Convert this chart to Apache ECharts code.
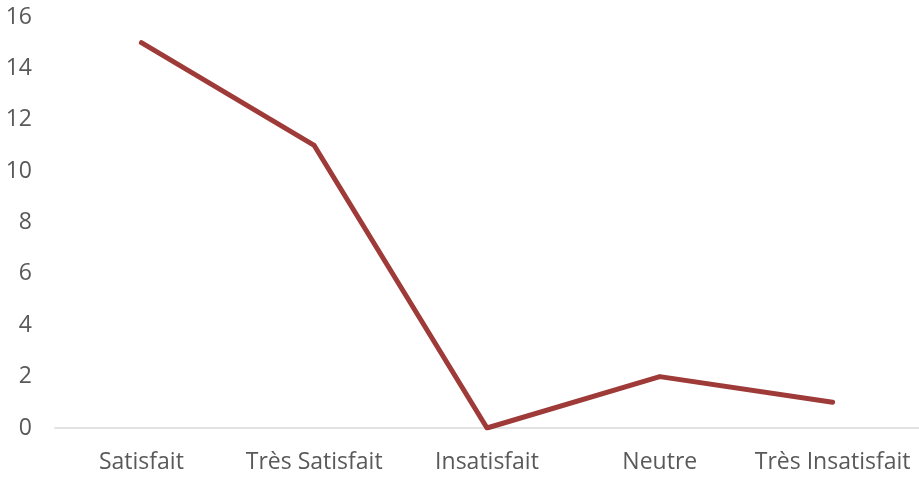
<!DOCTYPE html>
<html>
<head>
<meta charset="utf-8">
<script src="https://cdn.jsdelivr.net/npm/echarts@6/dist/echarts.min.js"></script>
<style>
html, body { margin: 0; padding: 0; background: #fff; }
#chart { width: 919px; height: 479px; }
</style>
</head>
<body>
<div id="chart"></div>
<script>
const categories = ['Satisfait', 'Très Satisfait', 'Insatisfait', 'Neutre', 'Très Insatisfait'];
const values = [15, 11, 0, 2, 1];
const yTicks = [0, 2, 4, 6, 8, 10, 12, 14, 16];

let chart = echarts.init(document.getElementById('chart'));
chart.setOption({
    backgroundColor: '#ffffff',
    animation: false,
    grid: {
        left: 55,
        right: -5,
        top: 17,
        bottom: 51
    },
    xAxis: {
        type: 'category',
        data: categories,
        boundaryGap: true,
        axisTick: { show: false },
        axisLine: { lineStyle: { color: '#d9d9d9', width: 1.5 } },
        axisLabel: {
            color: '#595959',
            fontFamily: 'Open Sans',
            fontSize: 23,
            margin: 23,
            interval: 0
        }
    },
    yAxis: {
        type: 'value',
        min: yTicks[0],
        max: yTicks[yTicks.length - 1],
        interval: 2,
        splitLine: { show: false },
        axisLine: { show: false },
        axisTick: { show: false },
        axisLabel: {
            color: '#595959',
            fontFamily: 'Open Sans',
            fontSize: 23,
            margin: 23
        }
    },
    series: [{
        type: 'line',
        data: values,
        showSymbol: false,
        lineStyle: { color: '#9e3b39', width: 5, cap: 'round', join: 'round' }
    }]
});
</script>
</body>
</html>
